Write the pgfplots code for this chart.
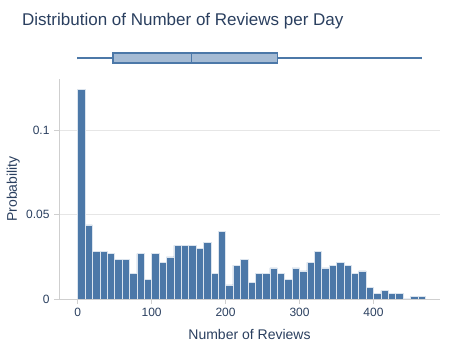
\documentclass[border=0pt]{standalone}
\usepackage{fontspec}
\setmainfont{Liberation Sans}
\usepackage{pgfplots}
\pgfplotsset{compat=1.18}
\usepgfplotslibrary{statistics}
\definecolor{barblue}{HTML}{4C78A8}
\definecolor{boxfill}{HTML}{A5BBD4}
\definecolor{txt}{HTML}{2A3F5F}
\definecolor{gridc}{HTML}{E6E6E6}
\definecolor{axc}{HTML}{CFCFCF}
\pgfplotstableread{
x y
0 0.124
10 0.0438
20 0.0284
30 0.0284
40 0.0268
50 0.0233
60 0.0233
70 0.015
80 0.0268
90 0.0117
100 0.0268
110 0.0217
120 0.025
130 0.0318
140 0.0318
150 0.0318
160 0.030
170 0.0335
180 0.015
190 0.040
200 0.0083
210 0.020
220 0.0233
230 0.0099
240 0.015
250 0.015
260 0.0184
270 0.015
280 0.0117
290 0.0184
300 0.0166
310 0.0217
320 0.0284
330 0.0184
340 0.020
350 0.0217
360 0.020
370 0.015
380 0.0166
390 0.0067
400 0.0034
410 0.0049
420 0.0034
430 0.0034
440 0
450 0.0016
460 0.0016
470 0
}\histdata
\begin{document}
\begin{tikzpicture}[x=1pt,y=1pt]
\path[use as bounding box] (0,0) rectangle (450,350);
\node[anchor=base west, font=\fontsize{17}{20}\selectfont, text=txt, inner sep=0] at (22,324) {Distribution of Number of Reviews per Day};
\begin{axis}[at={(59pt,51pt)}, anchor=south west, scale only axis,
  width=381pt, height=220pt,
  xmin=-25.3, xmax=490, ymin=0, ymax=0.1302,
  axis x line*=bottom, axis y line*=left,
  axis line style={-, draw=axc, line width=0.8pt},
  xtick={0,100,200,300,400}, xticklabels={0,100,200,300,400},
  ytick={0,0.05,0.1}, yticklabels={0,0.05,0.1},
  tick align=outside, major tick length=5pt,
  tick style={draw=axc, line width=0.6pt},
  ymajorgrids, grid style={draw=gridc, line width=0.8pt},
  tick label style={font=\fontsize{12}{14}\selectfont, text=txt},
  /pgf/number format/assume math mode=true,
  xticklabel style={yshift=-1pt},
  yticklabel style={xshift=-1pt},
]
\addplot[ybar interval, fill=barblue, draw=white!80!barblue, line width=0.5pt] table[x=x,y=y] {\histdata};
\end{axis}
\begin{axis}[at={(59pt,278pt)}, anchor=south west, scale only axis,
  width=381pt, height=28pt,
  xmin=-25.3, xmax=490, ymin=0, ymax=1, hide axis]
\addplot[draw=barblue, fill=boxfill, line width=1.5pt,
  boxplot prepared={lower whisker=0, lower quartile=48, median=154,
  upper quartile=270, upper whisker=465, draw position=0.5,
  box extend=0.34, whisker extend=0.1}] coordinates {};
\end{axis}
\node[rotate=90, anchor=base, font=\fontsize{14}{16}\selectfont, text=txt, inner sep=0] at (17,161) {Probability};
\node[anchor=base, font=\fontsize{14}{16}\selectfont, text=txt, inner sep=0] at (249.5,10) {Number of Reviews};
\end{tikzpicture}
\end{document}
